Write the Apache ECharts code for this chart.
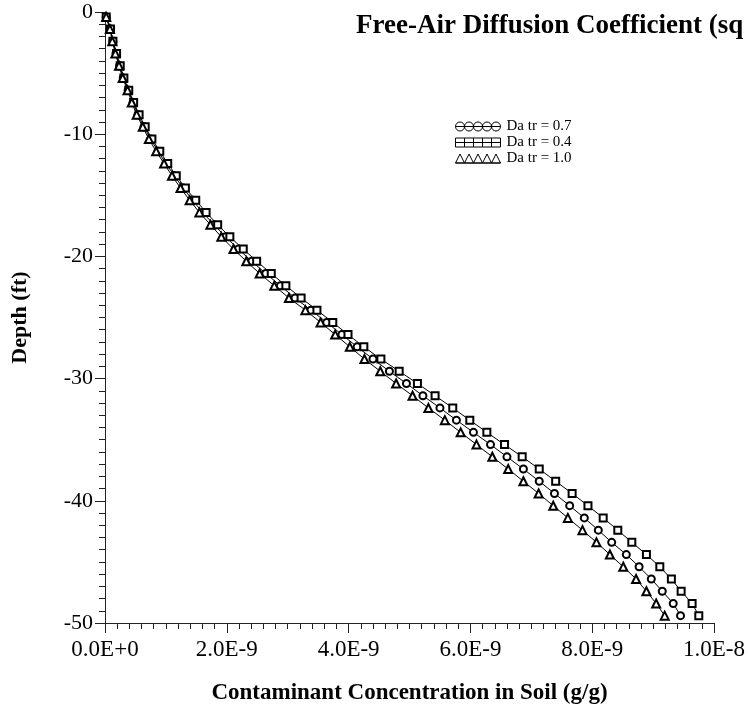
<!DOCTYPE html>
<html>
<head>
<meta charset="utf-8">
<script src="https://cdn.jsdelivr.net/npm/echarts@6/dist/echarts.min.js"></script>
<style>html,body{margin:0;padding:0;background:#fff}#c{width:748px;height:711px}</style>
</head>
<body>
<div id="c"></div>
<script>
// Depth of each plotted point (ft)
const depths = [-0.4,-1.4,-2.4,-3.4,-4.4,-5.4,-6.4,-7.4,-8.4,-9.4,-10.4,-11.4,-12.4,-13.4,-14.4,-15.4,-16.4,-17.4,-18.4,-19.4,-20.4,-21.4,-22.4,-23.4,-24.4,-25.4,-26.4,-27.4,-28.4,-29.4,-30.4,-31.4,-32.4,-33.4,-34.4,-35.4,-36.4,-37.4,-38.4,-39.4,-40.4,-41.4,-42.4,-43.4,-44.4,-45.4,-46.4,-47.4,-48.4,-49.4];
// Concentrations in units of 1E-9 g/g
const concDa07 = [0.02,0.09,0.13,0.18,0.24,0.30,0.38,0.46,0.54,0.64,0.75,0.87,1.00,1.14,1.28,1.44,1.60,1.79,1.98,2.19,2.41,2.64,2.88,3.12,3.38,3.64,3.89,4.14,4.40,4.67,4.95,5.22,5.50,5.77,6.05,6.33,6.60,6.87,7.13,7.38,7.63,7.87,8.10,8.32,8.56,8.77,8.97,9.15,9.33,9.45];
const concDa04 = [0.02,0.09,0.13,0.19,0.25,0.31,0.39,0.47,0.56,0.66,0.77,0.90,1.03,1.17,1.32,1.49,1.66,1.85,2.05,2.27,2.49,2.73,2.97,3.22,3.48,3.74,3.99,4.25,4.53,4.83,5.13,5.42,5.71,5.99,6.27,6.56,6.85,7.13,7.40,7.67,7.93,8.18,8.42,8.65,8.89,9.11,9.30,9.46,9.64,9.75];
const concDa10 = [0.02,0.08,0.12,0.17,0.23,0.29,0.37,0.44,0.52,0.62,0.72,0.84,0.97,1.10,1.24,1.39,1.55,1.73,1.91,2.11,2.32,2.54,2.78,3.02,3.29,3.54,3.78,4.02,4.26,4.52,4.78,5.05,5.31,5.58,5.84,6.10,6.36,6.62,6.87,7.12,7.36,7.60,7.84,8.07,8.29,8.51,8.72,8.89,9.05,9.19];
const seriesNames = ['Da tr = 0.7','Da tr = 0.4','Da tr = 1.0'];
const titleText = 'Free-Air Diffusion Coefficient (sq';
const xAxisTitle = 'Contaminant Concentration in Soil (g/g)';
const yAxisTitle = 'Depth (ft)';

const FONT = '"Liberation Serif","Times New Roman",serif';
function pairs(xs){ return xs.map((v,i)=>[v, depths[i]]); }

// legend icons: five markers on a line
function circlesIcon(){ let p='M0,4.5 L45,4.5'; for(let i=0;i<5;i++){const x=i*9; p+=' M'+x+',4.5 A4.5,4.5 0 1,1 '+(x+9)+',4.5 A4.5,4.5 0 1,1 '+x+',4.5';} return 'path://'+p; }
function squaresIcon(){ let p='M0,4.5 L45,4.5'; for(let i=0;i<5;i++){const x=i*9; p+=' M'+x+',0 L'+(x+9)+',0 L'+(x+9)+',9 L'+x+',9 Z';} return 'path://'+p; }
function trianglesIcon(){ let p='M0,9 L45,9'; for(let i=0;i<5;i++){const x=i*9; p+=' M'+x+',9 L'+(x+4.5)+',0 L'+(x+9)+',9 Z';} return 'path://'+p; }

const chart = echarts.init(document.getElementById('c'), null, {renderer:'canvas'});
const iconStyle = {color:'#fff', borderColor:'#000', borderWidth:1};
function mkSeries(name, xs, symbol, size){
  return {name, type:'line', data:pairs(xs), symbol, symbolSize:size, showAllSymbol:true,
    lineStyle:{color:'#000', width:1}, itemStyle:{color:'#000', borderColor:'#000', borderWidth:1},
    emphasis:{disabled:true}, z:2};
}
chart.setOption({
  animation:false,
  backgroundColor:'#fff',
  title:{text:titleText, left:356, top:13, padding:0, textStyle:{fontFamily:FONT, fontWeight:'bold', fontSize:27, color:'#000'}},
  legend:{orient:'vertical', left:450, top:114, itemWidth:45, itemHeight:9, itemGap:1,
    textStyle:{fontFamily:FONT, fontSize:15, lineHeight:15, color:'#000', padding:[0,0,0,1]},
    data:[
      {name:seriesNames[0], icon:circlesIcon(), itemStyle:iconStyle},
      {name:seriesNames[1], icon:squaresIcon(), itemStyle:iconStyle},
      {name:seriesNames[2], icon:trianglesIcon(), itemStyle:iconStyle}
    ]},
  grid:{left:105, right:30, top:12, bottom:88, containLabel:false},
  xAxis:{type:'value', min:0, max:10, interval:2,
    name:xAxisTitle, nameLocation:'middle', nameGap:59,
    nameTextStyle:{fontFamily:FONT, fontWeight:'bold', fontSize:23, color:'#000'},
    axisLine:{show:true, onZero:false, lineStyle:{color:'#222', width:1}},
    axisTick:{show:true, length:10, lineStyle:{color:'#222'}},
    minorTick:{show:true, splitNumber:10, length:6, lineStyle:{color:'#222'}},
    splitLine:{show:false},
    axisLabel:{margin:15, fontFamily:FONT, fontSize:23, color:'#000',
      formatter:v=>(v*1e-9).toExponential(1).toUpperCase()}},
  yAxis:{type:'value', min:-50, max:0, interval:10,
    name:yAxisTitle, nameLocation:'middle', nameGap:74, nameRotate:90,
    nameTextStyle:{fontFamily:FONT, fontWeight:'bold', fontSize:22, color:'#000'},
    axisLine:{show:true, onZero:false, lineStyle:{color:'#222', width:1}},
    axisTick:{show:true, length:10, lineStyle:{color:'#222'}},
    minorTick:{show:true, splitNumber:10, length:6, lineStyle:{color:'#222'}},
    splitLine:{show:false},
    axisLabel:{margin:12, fontFamily:FONT, fontSize:22, color:'#000'}},
  series:[
    mkSeries(seriesNames[0], concDa07, 'emptyCircle', 7),
    mkSeries(seriesNames[1], concDa04, 'emptyRect', 7),
    mkSeries(seriesNames[2], concDa10, 'emptyTriangle', 8)
  ]
});
</script>
</body>
</html>
